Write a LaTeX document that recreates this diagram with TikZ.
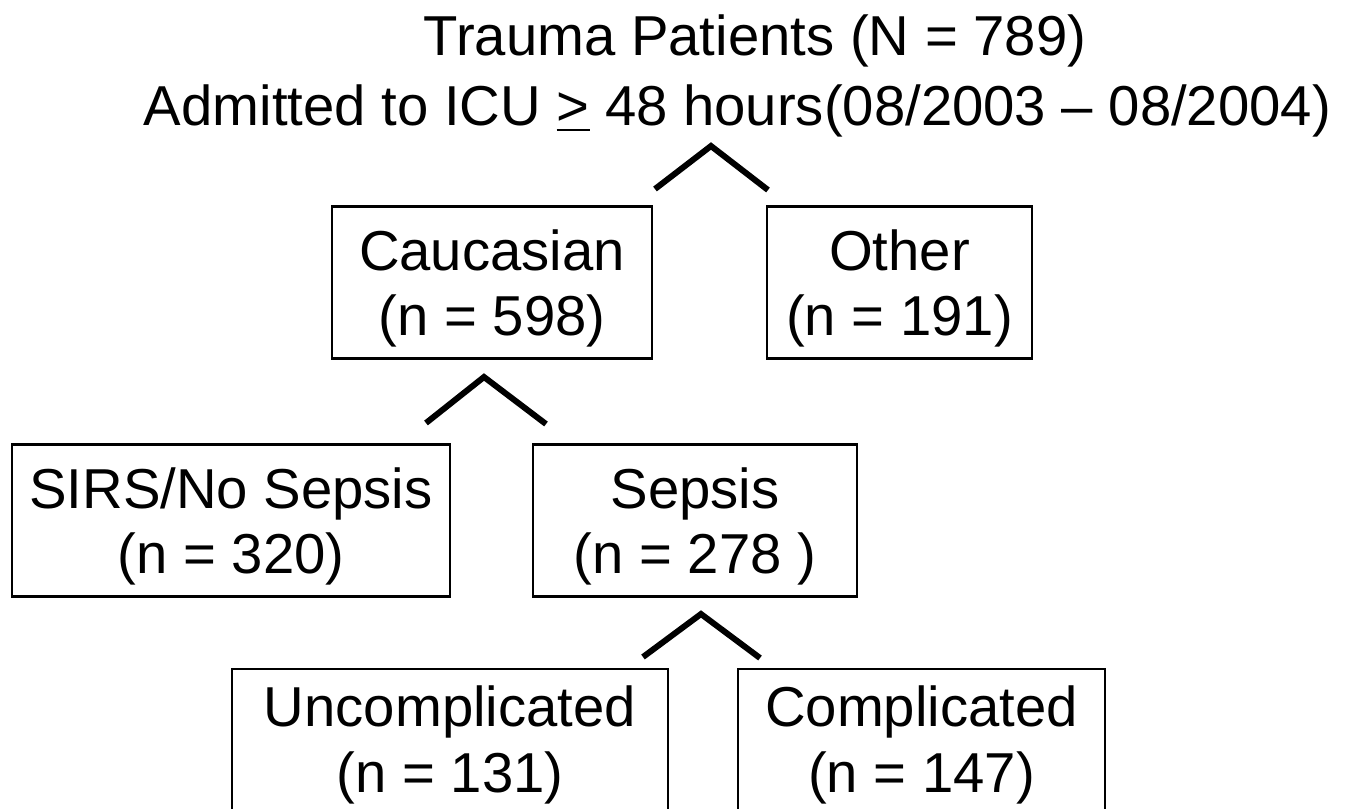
\documentclass[tikz,border=0pt]{standalone}
\usepackage{fontspec}
\setmainfont{Liberation Sans}
\newcommand{\toppad}{\rule{0pt}{15pt}}

\begin{document}
\begin{tikzpicture}[x=0.01cm,y=-0.01cm,
    font=\fontsize{16}{18.7}\selectfont,
    box/.style={draw,line width=0.7pt,inner sep=0pt,outer sep=0pt,align=center,minimum height=1.52cm},
    chevron/.style={line width=1.7pt,line join=miter}]
    \useasboundingbox (0,0) rectangle (1353,808);

    % Title
    \node[anchor=base] (title) at (755,55) {Trauma Patients (N = 789)};
    \node[anchor=base] (subtitle) at (737.5,125) {Admitted to ICU \underline{>} 48 hours(08/2003 -- 08/2004)};

    % Ethnicity
    \node[box,minimum width=3.20cm] (cauc) at (492,282.5) {\toppad Caucasian\\(n = 598)};
    \node[box,minimum width=2.65cm] (other) at (899.5,282.5) {\toppad Other\\(n = 191)};

    % Sepsis status
    \node[box,minimum width=4.38cm] (sirs) at (231,520.5) {\toppad SIRS/No Sepsis\\(n = 320)};
    \node[box,minimum width=3.24cm] (sepsis) at (695,520.5) {\toppad Sepsis\\(n = 278 )};

    % Outcome
    \node[box,minimum width=4.36cm] (uncomp) at (450,745) {Uncomplicated\\(n = 131)};
    \node[box,minimum width=3.67cm] (comp) at (921.5,745) {Complicated\\(n = 147)};

    % Splits
    \coordinate (c1l) at (655,189); \coordinate (c1t) at (711,146); \coordinate (c1r) at (768,190);
    \coordinate (c2l) at (426,423); \coordinate (c2t) at (484,377); \coordinate (c2r) at (546,424);
    \coordinate (c3l) at (643,657); \coordinate (c3t) at (701,614); \coordinate (c3r) at (760,658);
    \draw[chevron] (c1l) -- (c1t) -- (c1r);
    \draw[chevron] (c2l) -- (c2t) -- (c2r);
    \draw[chevron] (c3l) -- (c3t) -- (c3r);

\end{tikzpicture}
\end{document}
